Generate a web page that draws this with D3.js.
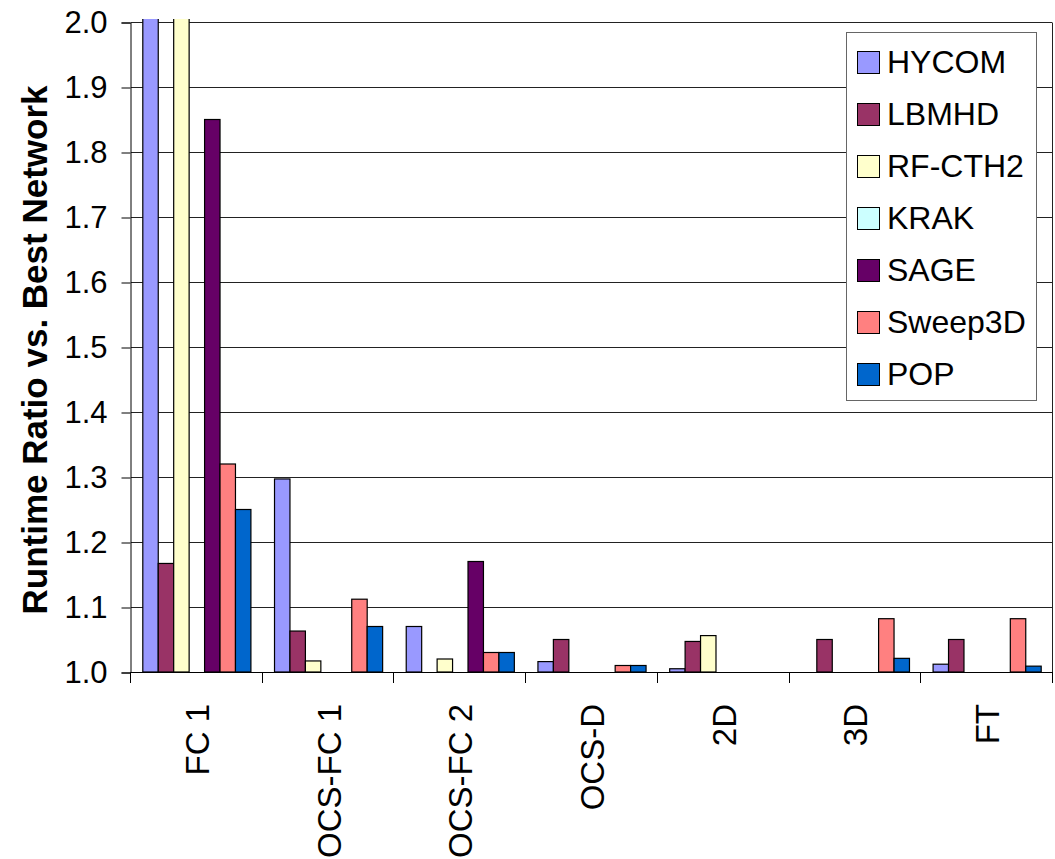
<html>
<head>
<title>Runtime Ratio vs. Best Network</title>
<script src="https://d3js.org/d3.v7.min.js"></script>
<style>
body { margin: 0; background: #fff; }
svg { display: block; font-family: Arial, 'Liberation Sans', sans-serif; }
</style>
</head>
<body>
<div id="chart"></div>
<script>

///////////////////////////////////////////
//////////////  data  /////////////////////
///////////////////////////////////////////

var categories = ["FC 1", "OCS-FC 1", "OCS-FC 2", "OCS-D", "2D", "3D", "FT"];
var seriesNames = ["HYCOM", "LBMHD", "RF-CTH2", "KRAK", "SAGE", "Sweep3D", "POP"];
var seriesColors = ["#9999FF", "#993366", "#FFFFCC", "#CCFFFF", "#660066", "#FF8080", "#0066CC"];

// null = no bar drawn (at or below 1.0)
// FC 1 HYCOM and RF-CTH2 run off the top of the axis
var hycom   = [2.3,   1.297, 1.07,  1.016, 1.005, null,  1.012];
var lbmhd   = [1.167, 1.063, null,  1.05,  1.047, 1.05,  1.05];
var rfcth2  = [2.3,   1.017, 1.02,  null,  1.056, null,  null];
var krak    = [null,  null,  null,  null,  null,  null,  null];
var sage    = [1.85,  null,  1.17,  null,  null,  null,  null];
var sweep3d = [1.32,  1.112, 1.03,  1.01,  null,  1.082, 1.082];
var pop     = [1.25,  1.07,  1.03,  1.01,  null,  1.021, 1.009];

var yTicks = [1.0, 1.1, 1.2, 1.3, 1.4, 1.5, 1.6, 1.7, 1.8, 1.9, 2.0];

var seriesValues = [hycom, lbmhd, rfcth2, krak, sage, sweep3d, pop];

var bars = [];
categories.forEach(function(c, ci) {
  seriesNames.forEach(function(s, si) {
    var v = seriesValues[si][ci];
    if (v != null) bars.push({cat: c, series: s, value: v, color: seriesColors[si]});
  });
});

///////////////////////////////////////////
//////////////  scales  ///////////////////
///////////////////////////////////////////

var width = 1055, height = 859;
var plotL = 131, plotR = 1053, plotT = 22, plotB = 672;

var svg = d3.select("#chart").append("svg").attr("width", width).attr("height", height);

var x0 = d3.scaleBand().domain(categories).range([plotL, plotR]).padding(0);
var groupGap = 11.8;
var x1 = d3.scaleBand().domain(seriesNames).range([groupGap, x0.bandwidth() - groupGap]).padding(0);
var y = d3.scaleLinear().domain([1, 2]).range([plotB, plotT]);

// clip so the off-scale bars stop at the top
svg.append("defs").append("clipPath").attr("id", "plotclip")
  .append("rect")
  .attr("x", plotL).attr("y", y(2) - 3)
  .attr("width", plotR - plotL).attr("height", y(1) - y(2) + 3);

///////////////////////////////////////////
//////////////  grid  /////////////////////
///////////////////////////////////////////

svg.append("g").selectAll("line").data(yTicks).enter()
  .append("line")
  .attr("x1", plotL).attr("x2", plotR - 1)
  .attr("y1", d => Math.round(y(d)) + 0.5)
  .attr("y2", d => Math.round(y(d)) + 0.5)
  .attr("stroke", "#222").attr("stroke-width", 1);

// right border of plot area
svg.append("line")
  .attr("x1", plotR - 0.5).attr("x2", plotR - 0.5)
  .attr("y1", Math.round(y(2)) + 0.5).attr("y2", Math.round(y(1)) + 0.5)
  .attr("stroke", "#222");

///////////////////////////////////////////
//////////////  bars  /////////////////////
///////////////////////////////////////////

svg.append("g").attr("clip-path", "url(#plotclip)")
  .selectAll("rect").data(bars).enter()
  .append("rect")
  .attr("x", d => x0(d.cat) + x1(d.series))
  .attr("y", d => y(d.value))
  .attr("width", x1.bandwidth())
  .attr("height", d => y(1) - y(d.value))
  .attr("fill", d => d.color)
  .attr("stroke", "#000")
  .attr("stroke-width", 1.2);

///////////////////////////////////////////
//////////////  axes  /////////////////////
///////////////////////////////////////////

var yAxis = d3.axisLeft(y).tickValues(yTicks).tickFormat(d3.format(".1f"))
  .tickSize(9).tickPadding(14);
var gy = svg.append("g").attr("transform", "translate(" + (plotL - 0.5) + ",0.5)").call(yAxis);
gy.select(".domain").attr("stroke", "#000");
gy.selectAll(".tick line").attr("stroke", "#000");
gy.selectAll("text").style("font-size", "31px").attr("fill", "#000")
  .style("font-family", "Arial, 'Liberation Sans', sans-serif");

// x axis line + ticks at category boundaries
svg.append("line")
  .attr("x1", plotL - 0.5).attr("x2", plotR)
  .attr("y1", Math.round(y(1)) + 0.5).attr("y2", Math.round(y(1)) + 0.5)
  .attr("stroke", "#000");
var bounds = categories.map(c => x0(c)).concat([plotR]);
svg.append("g").selectAll("line").data(bounds).enter()
  .append("line")
  .attr("x1", d => Math.round(d) - 0.5).attr("x2", d => Math.round(d) - 0.5)
  .attr("y1", y(1)).attr("y2", y(1) + 11)
  .attr("stroke", "#000");

// rotated category labels
svg.append("g").selectAll("text").data(categories).enter()
  .append("text")
  .attr("transform", d => "translate(" + (x0(d) + x0.bandwidth() / 2 + 12) + "," + (y(1) + 32) + ") rotate(-90)")
  .attr("text-anchor", "end")
  .style("font-size", "33px")
  .text(d => d);

// y title
svg.append("text")
  .attr("transform", "translate(47," + ((y(1) + y(2)) / 2 + 3) + ") rotate(-90)")
  .attr("text-anchor", "middle")
  .style("font-size", "35px").style("font-weight", "bold")
  .text("Runtime Ratio vs. Best Network");

///////////////////////////////////////////
//////////////  legend  ///////////////////
///////////////////////////////////////////

var legend = svg.append("g");
legend.append("rect")
  .attr("x", 846.5).attr("y", 32.5).attr("width", 190).attr("height", 368)
  .attr("fill", "#fff").attr("stroke", "#666");

var items = legend.selectAll(".item").data(seriesNames).enter()
  .append("g").attr("class", "item")
  .attr("transform", (d, i) => "translate(857," + (51 + i * 52) + ")");
items.append("rect")
  .attr("x", 0.5).attr("y", 0.5).attr("width", 22).attr("height", 22)
  .attr("fill", (d, i) => seriesColors[i]).attr("stroke", "#000");
items.append("text")
  .attr("x", 30).attr("y", 22)
  .style("font-size", "32px")
  .text(d => d);

</script>
</body>
</html>
